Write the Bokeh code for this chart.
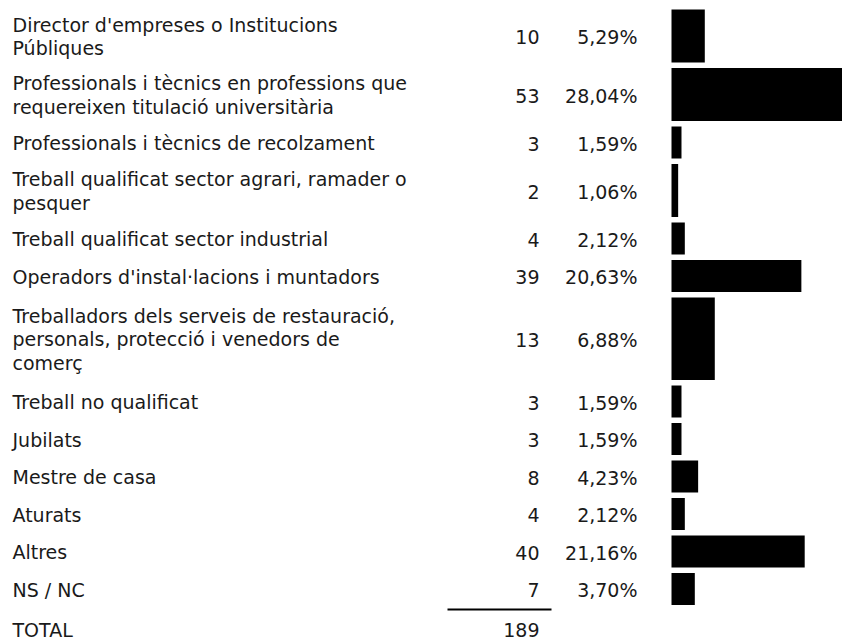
from bokeh.plotting import figure
from bokeh.models import Range1d, ColumnDataSource
from bokeh.core.properties import value
from bokeh.embed import file_html
from bokeh.resources import INLINE

# ---- data ----
labels = [
    "Director d'empreses o Institucions\nPúbliques",
    "Professionals i tècnics en professions que\nrequereixen titulació universitària",
    "Professionals i tècnics de recolzament",
    "Treball qualificat sector agrari, ramader o\npesquer",
    "Treball qualificat sector industrial",
    "Operadors d'instal·lacions i muntadors",
    "Treballadors dels serveis de restauració,\npersonals, protecció i venedors de\ncomerç",
    "Treball no qualificat",
    "Jubilats",
    "Mestre de casa",
    "Aturats",
    "Altres",
    "NS / NC",
]
counts = [10, 53, 3, 2, 4, 39, 13, 3, 3, 8, 4, 40, 7]
percents = [5.29, 28.04, 1.59, 1.06, 2.12, 20.63, 6.88, 1.59, 1.59, 4.23, 2.12, 21.16, 3.70]
total_label = "TOTAL"
total_value = 189

# ---- layout ----
W, H = 842, 642
FONT = "DejaVu Sans"
FS = "19px"
COLOR = "#1a1a1a"
pitch_for_lines = {1: 37.5, 2: 58.5, 3: 88.0}
gap = 5.5
line_step = 23.5
label_x = 12
count_x = 539
pct_x = 637
bar_x0 = 671
px_per_unit = 3.33

p = figure(width=W, height=H, output_backend="svg", toolbar_location=None,
           x_range=Range1d(0, W), y_range=Range1d(H, 0),
           min_border=0, outline_line_color=None)
p.axis.visible = False
p.grid.visible = False
p.background_fill_color = "white"
p.border_fill_color = "white"

p.extra_x_ranges = {"bars": Range1d(-bar_x0 / px_per_unit, (W - bar_x0) / px_per_unit)}

heights, centers = [], []
y = 9.0
for lab in labels:
    n = lab.count("\n") + 1
    pitch = pitch_for_lines[n]
    heights.append(pitch - gap)
    centers.append(y + (pitch - gap) / 2)
    y += pitch

# bars
bar_src = ColumnDataSource(dict(y=centers, h=heights, v=counts))
p.hbar(y="y", height="h", left=0, right="v", source=bar_src, x_range_name="bars",
       fill_color="black", line_color=None)

# label lines
lx, ly, lt = [], [], []
for lab, c in zip(labels, centers):
    parts = lab.split("\n")
    n = len(parts)
    for i, part in enumerate(parts):
        lx.append(label_x)
        ly.append(c + 0.5 + (i - (n - 1) / 2) * line_step)
        lt.append(part)
p.text(x=lx, y=ly, text=lt, text_font=value(FONT), text_font_size=FS,
       text_baseline="middle", text_align="left", text_color=COLOR)

# counts and percents
p.text(x=[count_x] * len(counts), y=[c + 1 for c in centers], text=[str(v) for v in counts],
       text_font=value(FONT), text_font_size=FS, text_baseline="middle",
       text_align="right", text_color=COLOR)
p.text(x=[pct_x] * len(percents), y=[c + 1 for c in centers],
       text=[f"{v:.2f}".replace(".", ",") + "%" for v in percents],
       text_font=value(FONT), text_font_size=FS, text_baseline="middle",
       text_align="right", text_color=COLOR)

# total rule and total row
rule_y = y - gap + 4.5
p.segment(x0=[447], y0=[rule_y], x1=[551], y1=[rule_y], line_color="black", line_width=2)
total_y = rule_y + 20
p.text(x=[label_x], y=[total_y], text=[total_label], text_font=value(FONT), text_font_size=FS,
       text_baseline="middle", text_align="left", text_color=COLOR)
p.text(x=[count_x], y=[total_y], text=[str(total_value)], text_font=value(FONT), text_font_size=FS,
       text_baseline="middle", text_align="right", text_color=COLOR)

open("out.html", "w").write(file_html(p, INLINE))
